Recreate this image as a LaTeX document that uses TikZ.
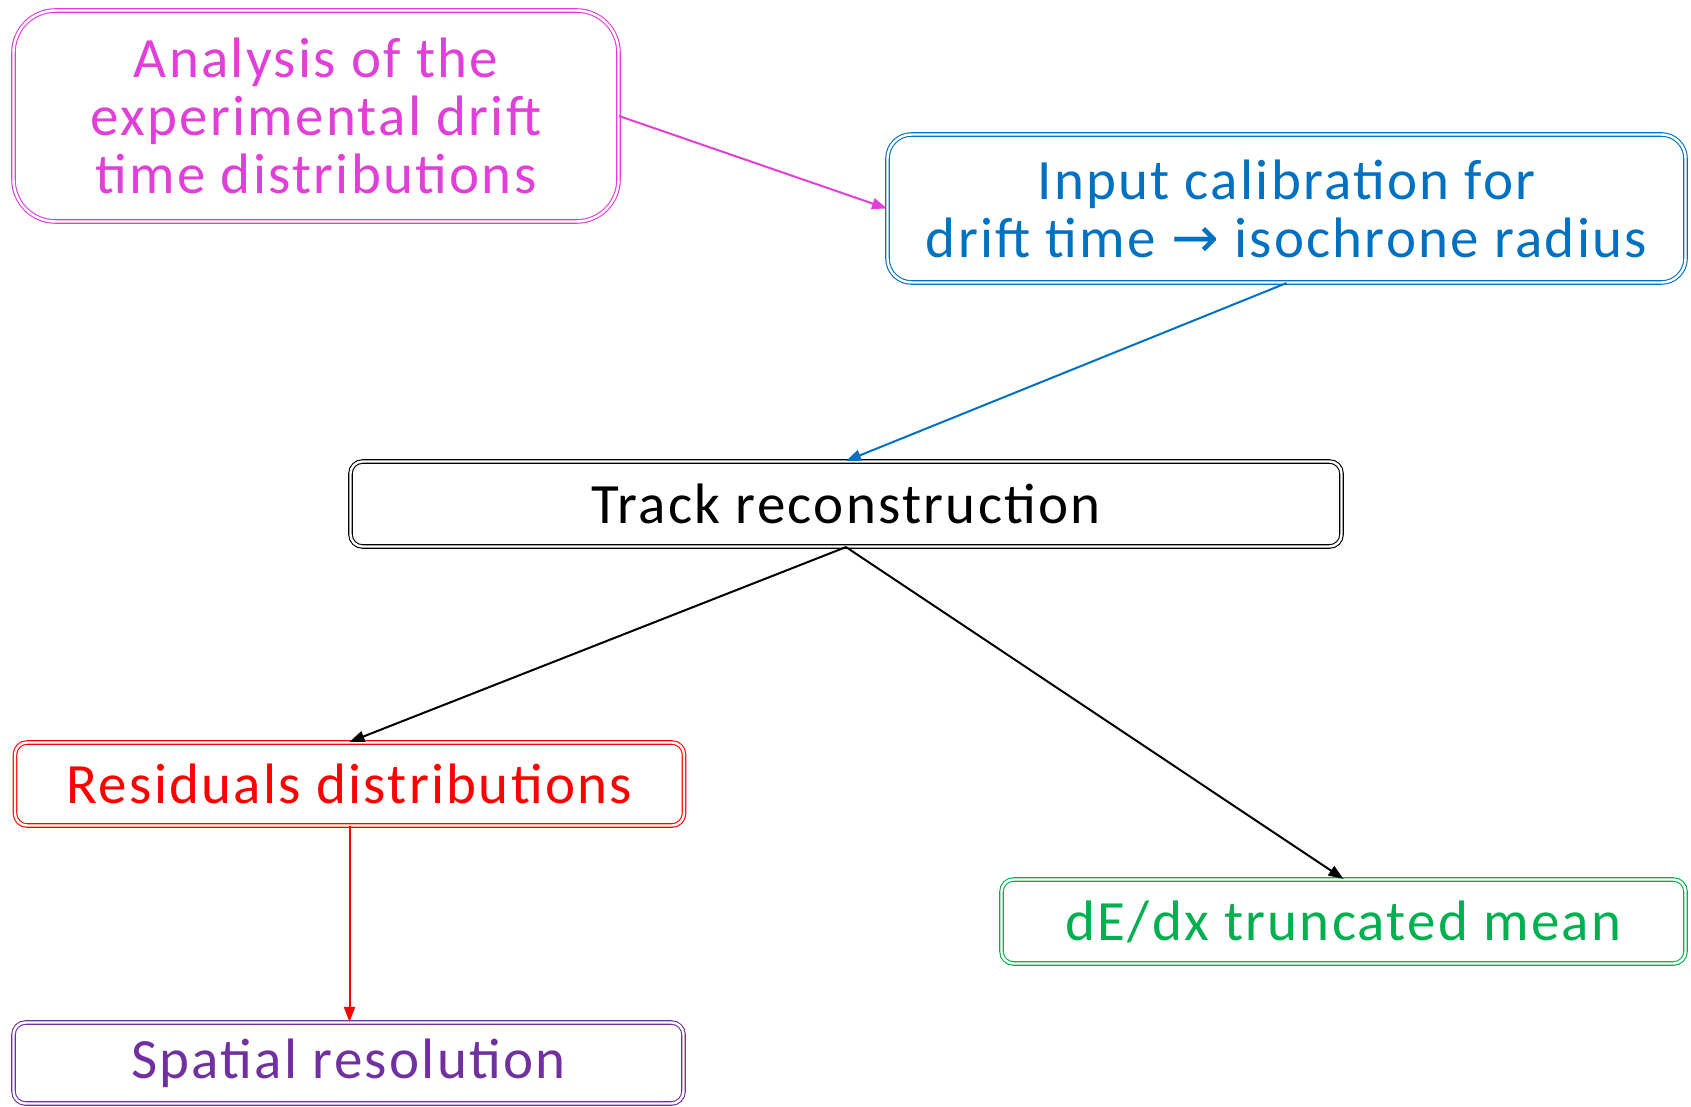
\documentclass[tikz,border=0pt]{standalone}
\usepackage{fontspec}
\setmainfont{Carlito}[LetterSpace=4]
\newfontfamily\symfont{DejaVu Sans}
\usetikzlibrary{arrows.meta}

\definecolor{cMag}{RGB}{224,64,216}
\definecolor{cBlue}{RGB}{0,112,192}
\definecolor{cRed}{RGB}{255,0,0}
\definecolor{cGreen}{RGB}{0,176,80}
\definecolor{cPurple}{RGB}{112,48,160}

\tikzset{
  box/.style={draw=#1, text=#1, double=white, line width=1.1pt, double distance=2.4pt,
    rectangle, rounded corners=12pt, align=center, inner sep=0pt,
    font=\fontsize{57}{58}\selectfont},
  link/.style={draw=#1, line width=2pt, -{Triangle[length=15pt,width=11pt,fill=#1]}}
}

\begin{document}
\begin{tikzpicture}[x=1pt,y=-1pt]
  \useasboundingbox (0,0) rectangle (1691,1107);

  \node[box=cMag, rounded corners=42pt, minimum width=605pt, minimum height=211pt]
    (ana) at (316,116) {Analysis of the\\experimental drift\\time distributions};
  \node[box=cBlue, rounded corners=24pt, minimum width=798pt, minimum height=148pt]
    (cal) at (1286.5,208.5) {Input calibration for\\drift time {\symfont →} isochrone radius};
  \node[box=black, minimum width=991pt, minimum height=85pt]
    (trk) at (846,504) {Track reconstruction};
  \node[box=cRed, minimum width=669pt, minimum height=83pt]
    (res) at (349.5,784) {Residuals distributions};
  \node[box=cGreen, minimum width=684pt, minimum height=84pt]
    (dedx) at (1343.5,921.5) {dE/dx truncated mean};
  \node[box=cPurple, minimum width=670pt, minimum height=81pt]
    (spa) at (348.5,1063) {Spatial resolution};

  \draw[link=cMag] (ana.east) -- (cal.west);
  \draw[link=cBlue] (cal.south) -- (trk.north);
  \draw[link=black] (trk.south) -- (res.north);
  \draw[link=black] (trk.south) -- (dedx.north);
  \draw[link=cRed] (res.south) -- (res.south |- spa.north);
\end{tikzpicture}
\end{document}
